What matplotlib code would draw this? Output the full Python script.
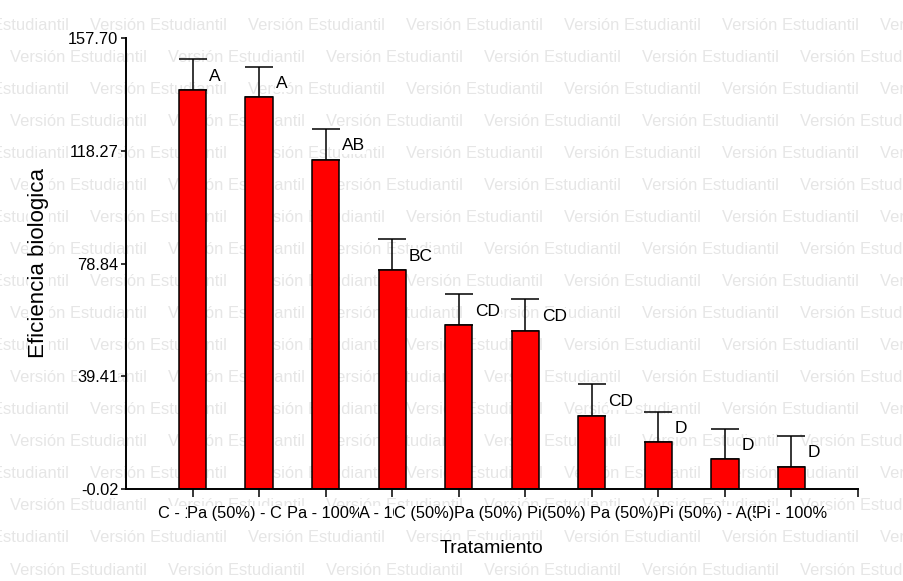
import matplotlib
matplotlib.use('Agg')
import matplotlib.pyplot as plt
import numpy as np

# Datos
tratamientos = ['C - 100%', 'Pa (50%) - C (50%)', 'Pa - 100%', 'A - 100%',
                'C (50%) - A(50%)', 'Pa (50%) - Pi(50%)', 'Pi(50%) - C(50%)',
                'Pa (50%) - A(50%)', 'Pi (50%) - A(50%)', 'Pi - 100%']
eficiencia = [139.6, 136.9, 115.0, 76.6, 57.4, 55.3, 25.6, 16.3, 10.4, 7.8]
error_est = [10.8, 10.8, 11.0, 10.8, 10.8, 11.0, 11.0, 10.7, 10.7, 10.8]
letras = ['A', 'A', 'AB', 'BC', 'CD', 'CD', 'CD', 'D', 'D', 'D']
yticks = [-0.02, 39.41, 78.84, 118.27, 157.70]

fuente = ['Liberation Sans', 'DejaVu Sans']
blanco = dict(facecolor='white', edgecolor='none', pad=0)

fig = plt.figure(figsize=(9.04, 5.81), dpi=100)
ax = fig.add_axes([126 / 904, 92 / 581, 732 / 904, 451 / 581])
ax.set_facecolor('none')

# marca de agua
for n in range(18):
    yy = 1 - (25 + 32.06 * n) / 581
    x0 = -68 if n % 2 == 0 else 10
    for k in range(7):
        fig.text((x0 + 158 * k) / 904, yy, 'Versión Estudiantil', color='#e6e6e6',
                 fontsize=11.9, family=fuente, ha='left', va='center', zorder=-5)

x = np.arange(1, len(eficiencia) + 1)
ax.bar(x, eficiencia, width=0.41, color='#ff0000', edgecolor='black', linewidth=1.1, zorder=2)
ax.errorbar(x, eficiencia, yerr=[np.zeros(len(x)), error_est], fmt='none', ecolor='black',
            elinewidth=1.1, capsize=10, capthick=1.1, zorder=1)

for xi, m, e, l in zip(x, eficiencia, error_est, letras):
    ax.text(xi + 0.25, m + e - 6, l, ha='left', va='center', fontsize=12.5,
            family=fuente, bbox=dict(facecolor='white', edgecolor='none', pad=0.5), zorder=3)

ax.set_xlim(0, 11)
ax.set_ylim(-0.02, 157.70)
ax.set_xticks(np.arange(1, 12))
ax.set_xticklabels(tratamientos + [''])
ax.set_yticks(yticks)
ax.set_yticklabels([f'{v:.2f}' for v in yticks])

for lbl in ax.get_xticklabels() + ax.get_yticklabels():
    lbl.set_family(fuente)
    lbl.set_fontsize(11.8)
    lbl.set_bbox(blanco)

ax.tick_params(axis='x', length=6, width=1.1, pad=6)
ax.tick_params(axis='y', length=3.5, width=1.1, pad=2)
for s in ['top', 'right']:
    ax.spines[s].set_visible(False)
for s in ['left', 'bottom']:
    ax.spines[s].set_linewidth(1.4)

ax.set_xlabel('Tratamiento', fontsize=14, family=fuente, bbox=blanco, labelpad=14)
ax.set_ylabel('Eficiencia biologica', fontsize=16, family=fuente, bbox=blanco)
ax.yaxis.set_label_coords(-0.105, 0.5)

fig.savefig('out.png', dpi=100)
